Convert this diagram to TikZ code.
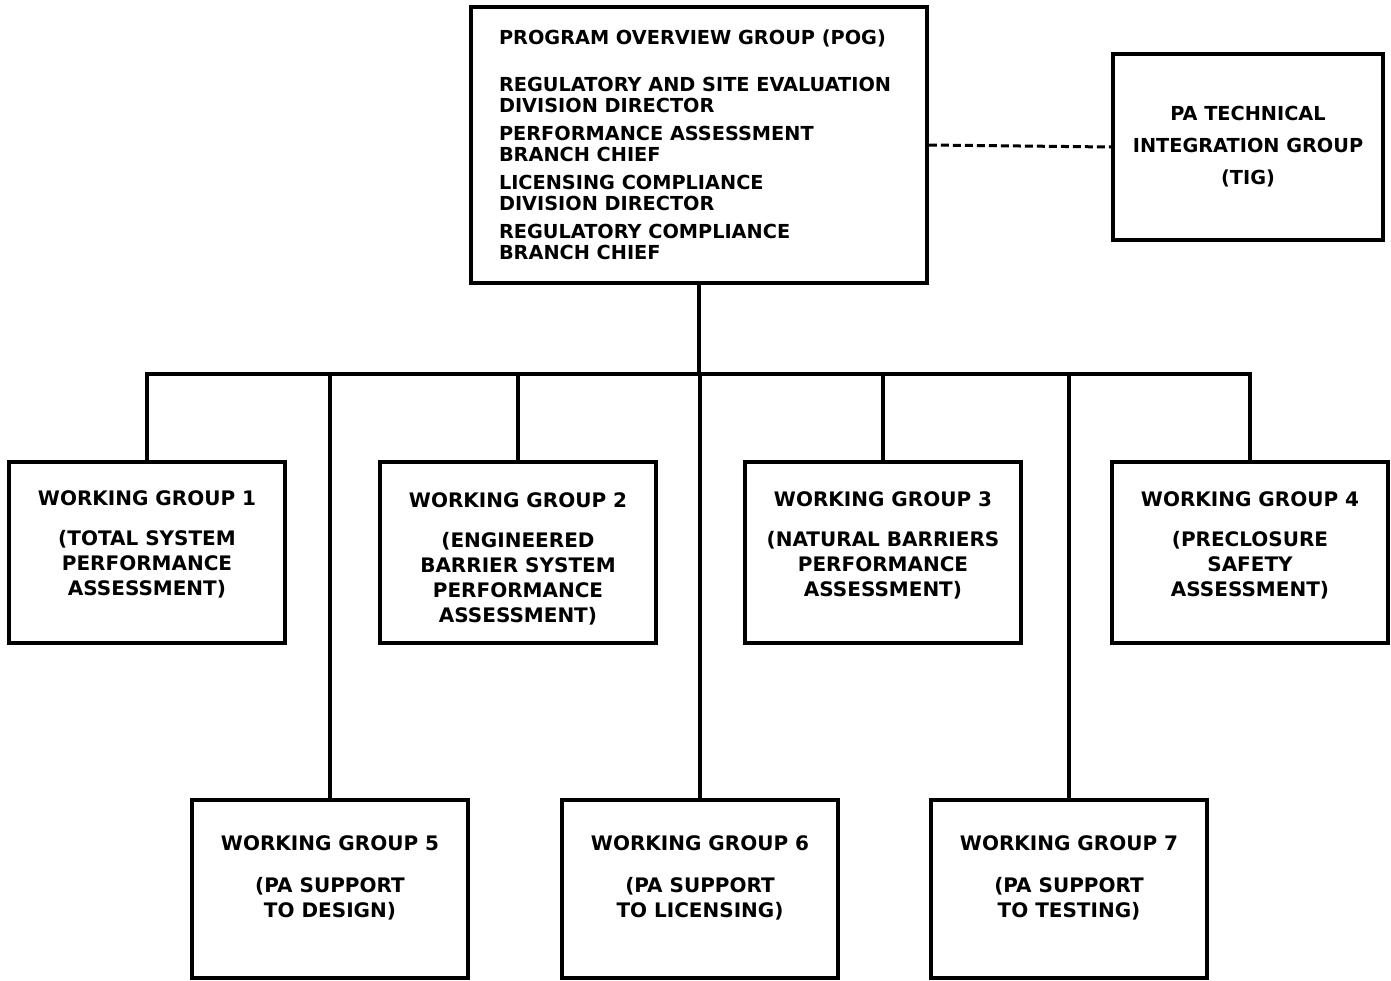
\documentclass[tikz,border=0pt]{standalone}
\usepackage{fontspec}
\setmainfont{DejaVu Sans}
\newcommand\chartfont{\bfseries\fontsize{20}{25}\selectfont}
\newcommand\wgtext[3]{\parbox[c][#1pt][t]{276pt}{\centering\vspace*{#2pt}#3}}
\begin{document}
\begin{tikzpicture}[x=1pt,y=-1pt,
  box/.style={draw, line width=3.6pt, rectangle, inner sep=0pt, font=\chartfont},
  link/.style={line width=3.2pt},
  dotlink/.style={line width=3pt, dash pattern=on 8pt off 4pt}]
\useasboundingbox (0,0) rectangle (1391,980);

% top level
\node[box, inner xsep=28pt, minimum height=276pt] (pog) at (699,145)
  {\parbox{400pt}{\raggedright\bfseries\fontsize{19.3}{21}\selectfont
   PROGRAM OVERVIEW GROUP (POG)\\[26pt]
   REGULATORY AND SITE EVALUATION\\
   DIVISION DIRECTOR\\[7pt]
   PERFORMANCE ASSESSMENT\\
   BRANCH CHIEF\\[7pt]
   LICENSING COMPLIANCE\\
   DIVISION DIRECTOR\\[7pt]
   REGULATORY COMPLIANCE\\
   BRANCH CHIEF}};

\node[box, minimum height=186pt] (tig) at (1248,147)
  {\parbox{270pt}{\centering\bfseries\fontsize{19.3}{32}\selectfont
   PA TECHNICAL\\ INTEGRATION GROUP\\ (TIG)}};

% first row of working groups
\node[box] (wg1) at (147,552.5) {\wgtext{181}{29}{WORKING GROUP 1\\[15pt] (TOTAL SYSTEM\\ PERFORMANCE\\ ASSESSMENT)}};
\node[box] (wg2) at (518,552.5) {\wgtext{181}{31}{WORKING GROUP 2\\[15pt] (ENGINEERED\\ BARRIER SYSTEM\\ PERFORMANCE\\ ASSESSMENT)}};
\node[box] (wg3) at (883,552.5) {\wgtext{181}{30}{WORKING GROUP 3\\[15pt] (NATURAL BARRIERS\\ PERFORMANCE\\ ASSESSMENT)}};
\node[box] (wg4) at (1250,552.5) {\wgtext{181}{30}{WORKING GROUP 4\\[15pt] (PRECLOSURE\\ SAFETY\\ ASSESSMENT)}};

% second row of working groups
\node[box] (wg5) at (330,889) {\wgtext{178}{36}{WORKING GROUP 5\\[17pt] (PA SUPPORT\\ TO DESIGN)}};
\node[box] (wg6) at (700,889) {\wgtext{178}{36}{WORKING GROUP 6\\[17pt] (PA SUPPORT\\ TO LICENSING)}};
\node[box] (wg7) at (1069,889) {\wgtext{178}{36}{WORKING GROUP 7\\[17pt] (PA SUPPORT\\ TO TESTING)}};

% connectors
\coordinate (bus) at (700,374);
\draw[link] (pog.south) -- (pog.south |- bus);
\draw[link] (wg1.north) |- (bus);
\draw[link] (wg4.north) |- (bus);
\draw[link] (wg2.north) -- (wg2.north |- bus);
\draw[link] (wg3.north) -- (wg3.north |- bus);
\draw[link] (wg5.north) -- (wg5.north |- bus);
\draw[link] (wg6.north) -- (bus);
\draw[link] (wg7.north) -- (wg7.north |- bus);
\draw[dotlink] (pog.east) -- (tig.west);
\end{tikzpicture}
\end{document}
